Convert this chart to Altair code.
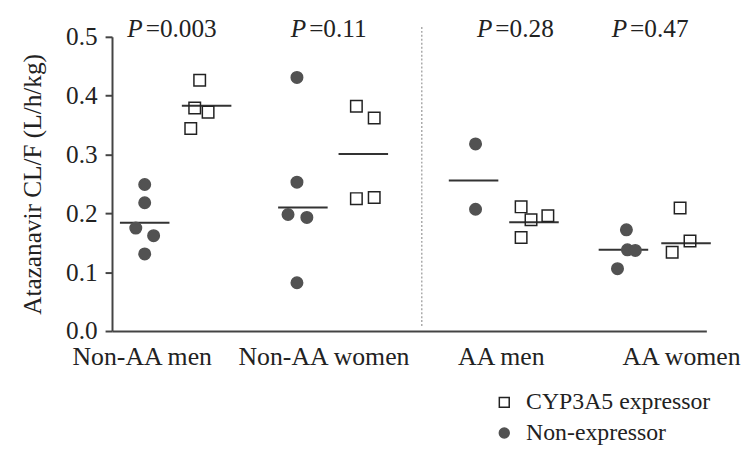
import altair as alt
import pandas as pd

# ---- data ----
groups = ["Non-AA men", "Non-AA women", "AA men", "AA women"]
types = ["CYP3A5 expressor", "Non-expressor"]

# CL/F values (L/h/kg)
non_aa_men_non = [0.249, 0.218, 0.175, 0.162, 0.131]
non_aa_men_exp = [0.426, 0.379, 0.372, 0.344]
non_aa_women_non = [0.431, 0.253, 0.198, 0.193, 0.082]
non_aa_women_exp = [0.382, 0.362, 0.225, 0.227]
aa_men_non = [0.318, 0.207]
aa_men_exp = [0.211, 0.189, 0.196, 0.159]
aa_women_non = [0.172, 0.138, 0.137, 0.106]
aa_women_exp = [0.209, 0.153, 0.134]

# horizontal scatter of points within each column (x-scale units)
non_aa_men_non_j = [0, 0, -9, 9, 0]
non_aa_men_exp_j = [-7, -12, 1.5, -16]
non_aa_women_non_j = [-6, -6, -15, 4, -6]
non_aa_women_exp_j = [-7, 11, -7, 11]
aa_men_non_j = [2, 2]
aa_men_exp_j = [-13, -3, 14, -13]
aa_women_non_j = [3, 4, 12, -6]
aa_women_exp_j = [-6, 4, -14]

# column centres (x-scale units) and the mean line of each column
col_pos = [33, 95.5, 192.7, 253.7, 365, 426, 516.3, 579.5]
col_group = ["Non-AA men", "Non-AA men", "Non-AA women", "Non-AA women",
             "AA men", "AA men", "AA women", "AA women"]
col_type = ["Non-expressor", "CYP3A5 expressor"] * 4
col_mean = [0.184, 0.383, 0.210, 0.301, 0.256, 0.185, 0.138, 0.149]

p_values = ["0.003", "0.11", "0.28", "0.47"]
p_pos = [31, 196, 384, 520]
label_pos = [30.5, 214, 393, 575]
divider_pos = [312.7]

series = [
    (non_aa_men_non, non_aa_men_non_j), (non_aa_men_exp, non_aa_men_exp_j),
    (non_aa_women_non, non_aa_women_non_j), (non_aa_women_exp, non_aa_women_exp_j),
    (aa_men_non, aa_men_non_j), (aa_men_exp, aa_men_exp_j),
    (aa_women_non, aa_women_non_j), (aa_women_exp, aa_women_exp_j),
]

rows = []
for i, (vals, jit) in enumerate(series):
    for v, j in zip(vals, jit):
        rows.append({"group": col_group[i], "type": col_type[i],
                     "value": v, "col": col_pos[i], "jitter": j})
points_df = pd.DataFrame(rows)
means_df = pd.DataFrame({"col": col_pos, "mean": col_mean, "type": col_type})
p_df = pd.DataFrame({"pos": p_pos, "p": ["=" + p for p in p_values], "P": ["P"] * 4})
lab_df = pd.DataFrame({"pos": label_pos, "label": groups})
div_df = pd.DataFrame({"pos": divider_pos})

FONT = "Liberation Serif"
xscale = alt.Scale(domain=[0, 600], nice=False, zero=False)
yscale = alt.Scale(domain=[0, 0.5], nice=False)

xaxis = alt.Axis(title=None, labels=False, ticks=False, grid=False,
                 domainColor="#444", domainWidth=2)
yaxis = alt.Axis(title="Atazanavir CL/F (L/h/kg)", values=[0, 0.1, 0.2, 0.3, 0.4, 0.5],
                 format=".1f", grid=False, tickSize=7, tickWidth=2, tickColor="#444",
                 domainColor="#444", domainWidth=2, labelFont=FONT, labelFontSize=25.5,
                 labelColor="#222", labelPadding=8, titleFont=FONT, titleFontSize=25.5,
                 titleFontWeight="normal", titleColor="#222", titlePadding=20)

legend = alt.Legend(title=None, orient="none", legendX=384, legendY=357,
                    labelFont=FONT, labelFontSize=24, labelColor="#222", labelLimit=0,
                    symbolSize=100, symbolStrokeWidth=1.5, labelOffset=10,
                    rowPadding=7)

pts = alt.Chart(points_df).transform_calculate(
    xp="datum.col + datum.jitter"
).mark_point(size=135, opacity=1, strokeWidth=1.5).encode(
    x=alt.X("xp:Q", scale=xscale, axis=xaxis),
    y=alt.Y("value:Q", scale=yscale, axis=yaxis),
    shape=alt.Shape("type:N", scale=alt.Scale(domain=types, range=["square", "circle"]), legend=legend),
    fill=alt.Fill("type:N", scale=alt.Scale(domain=types, range=["transparent", "#525252"]), legend=legend),
    stroke=alt.Stroke("type:N", scale=alt.Scale(domain=types, range=["#222222", "#525252"]), legend=legend),
)

mean_rules = alt.Chart(means_df).transform_calculate(
    x1="datum.col - 25", x2="datum.col + 25"
).mark_rule(color="#333", strokeWidth=2).encode(
    x=alt.X("x1:Q", scale=xscale), x2="x2:Q", y=alt.Y("mean:Q", scale=yscale)
)

divider = alt.Chart(div_df).mark_rule(color="#aaa", strokeWidth=1.5, strokeDash=[2, 2]).encode(
    x=alt.X("pos:Q", scale=xscale), y=alt.value(-10), y2=alt.value(292)
)

labels = alt.Chart(lab_df).mark_text(font=FONT, fontSize=26, color="#222", baseline="middle").encode(
    x=alt.X("pos:Q", scale=xscale), y=alt.value(323), text="label:N"
)

p_italic = alt.Chart(p_df).mark_text(font=FONT, fontSize=25.5, fontStyle="italic", color="#222",
                                     align="right", baseline="middle").encode(
    x=alt.X("pos:Q", scale=xscale), y=alt.value(-8), text="P:N"
)
p_rest = alt.Chart(p_df).mark_text(font=FONT, fontSize=25.5, color="#222",
                                   align="left", baseline="middle", dx=3).encode(
    x=alt.X("pos:Q", scale=xscale), y=alt.value(-8), text="p:N"
)

chart = alt.layer(divider, mean_rules, pts, labels, p_italic, p_rest).properties(
    width=600, height=297,
    autosize=alt.AutoSizeParams(type="none"),
    padding={"left": 105, "top": 27, "right": 37, "bottom": 116},
).configure_view(stroke=None)

chart.save("out.html", embed_options={"renderer": "svg", "actions": False})
